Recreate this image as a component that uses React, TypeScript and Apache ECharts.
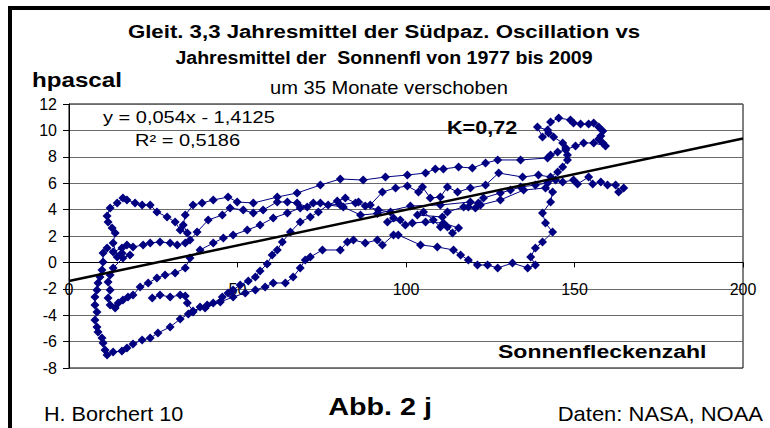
import React, { useEffect, useRef } from "react";
import * as echarts from "echarts";

// Sunspot number (annual running mean) — x values, in time order of the trajectory
const sunspotNumber = [
  164.6, 163.1, 162.2, 159.8, 157.8, 155.4, 154.2, 150.9, 149.7, 146.5, 144.4, 142.0, 138.4, 134.0, 131.0, 128.0,
  123.0, 121.5, 120.6, 118.5, 117.1, 112.3, 110.8, 103.4, 105.2, 108.1, 110.2, 112.3, 113.8, 115.6, 111.1, 105.8,
  101.9, 99.8, 98.3, 94.5, 96.3, 95.4, 91.8, 87.9, 85.0, 82.0,
  79.6, 76.9, 74.0, 71.6, 68.6, 65.7, 63.3, 61.8, 60.3, 58.8, 56.7, 55.3, 53.2, 50.8, 48.7, 47.2, 45.5, 42.8, 41.0,
  38.9, 36.8,
  35.4, 33.0, 30.0, 26.4, 24.1, 21.7, 19.0, 17.2, 15.7, 13.1, 11.3,
  10.7, 10.1, 9.8, 8.6, 8.3, 7.7, 8.3, 7.7, 7.7, 8.3, 8.6, 9.2, 9.8, 10.1, 10.1,
  11.3, 13.1, 15.7, 17.2, 19.0, 22.0, 24.1, 27.0, 30.0, 32.1, 34.5, 35.9,
  38.0, 41.3, 45.5, 47.8, 51.7, 54.7, 57.6, 61.8, 64.8, 67.7, 70.7, 74.6, 80.5, 85.9, 89.4, 93.0, 96.9, 100.4,
  103.7, 104.9, 107.2, 110.2, 112.3, 115.3, 119.1, 123.6, 127.5, 134.6, 139.3, 142.9,
  145.0, 146.5, 147.9, 147.9, 147.4,
  146.5, 143.8, 142.3, 140.5, 139.0, 142.0, 142.9, 145.3, 148.8, 149.7, 151.8, 154.2, 155.7, 157.2, 158.4, 157.8,
  157.2, 158.4, 159.2, 155.7, 152.7, 150.3, 147.4,
  145.0, 142.9, 142.0, 134.0, 127.2, 123.6, 119.7, 115.6, 111.1, 108.7, 105.8, 100.4, 93.9, 87.3, 80.5, 74.6,
  67.7, 61.8, 54.7, 49.9, 47.2, 42.8, 39.5, 36.8, 34.5, 33.9, 35.1, 33.0,
  31.5, 29.1, 26.1, 24.1, 21.7, 19.6,
  17.2, 16.0, 14.3, 12.2, 11.3, 11.6, 12.8, 13.7, 13.1,
  14.3, 15.7, 18.1, 16.0, 13.1, 12.2, 11.6, 12.2, 11.6, 12.2, 13.7, 14.6, 16.0, 17.5, 19.0,
  21.1, 23.5, 26.1, 28.5, 31.5, 34.5, 35.9, 38.9, 42.8, 45.8, 48.7, 52.9, 56.7, 60.6, 64.8, 68.6, 72.5,
  81.4, 86.5, 91.5, 101.3, 110.2, 119.1, 122.1, 128.0, 134.9, 141.4, 143.5,
  142.9, 140.5, 141.4, 143.5, 140.5, 138.4, 137.0, 138.4, 136.1, 131.6, 127.2, 124.2, 121.2, 118.5, 116.2, 114.1,
  109.3, 104.3, 97.7, 96.3, 93.0, 91.5, 87.9, 84.4, 82.6, 80.5,
  75.2, 71.6, 70.1, 68.6, 66.5, 64.2, 60.6, 58.2, 55.3, 52.3, 48.7, 44.9, 40.4, 36.8,
  35.1, 34.5, 33.0, 30.0, 27.0, 24.7,
];

// Southern Oscillation, 3-year running mean (hPa) — y values, same order
const soiPressure = [
  5.64, 5.33, 5.86, 5.86, 6.09, 5.94, 6.47, 5.94, 6.24, 6.09, 6.24, 6.02, 5.86, 5.71, 5.48, 5.26,
  4.88, 4.5, 4.12, 4.2, 4.2, 3.82, 3.44, 3.59, 3.82, 3.21, 2.68, 2.68, 2.23, 2.61, 2.98, 3.06,
  2.98, 2.83, 3.21, 3.06, 3.36, 3.82, 3.97, 4.27, 4.5, 4.88,
  4.65, 4.35, 3.82, 3.44, 3.06, 2.3, 1.55, 0.94, 0.56, -0.12, -0.65, -1.11, -1.41, -1.71, -2.09, -2.32, -2.62, -3.08, -3.23,
  -3.38, -3.76,
  -3.91, -4.29, -4.89, -5.35, -5.73, -5.88, -6.18, -6.48, -6.71, -6.79, -7.02,
  -6.64, -6.11, -5.73, -5.27, -4.89, -4.36, -3.76, -3.23, -2.62, -2.09, -1.56, -1.11, -0.58, 0.03, 0.71,
  1.09, 0.79, 1.09, 1.32, 1.17, 1.32, 1.47, 1.55, 1.47, 1.32, 1.47, 1.7,
  2.3, 3.21, 3.59, 4.12, 3.97, 3.74, 3.97, 4.58, 4.58, 4.5, 4.2, 4.5, 4.35, 4.58, 4.35, 5.33, 5.64, 5.79,
  5.33, 5.71, 4.88, 4.95, 5.71, 5.33, 5.64, 5.86, 6.77, 6.47, 6.62, 6.47,
  6.85, 7.23, 7.76, 8.14, 8.67,
  9.05, 9.5, 9.8, 9.5, 10.25, 10.03, 10.64, 10.94, 10.79, 10.56, 10.48, 10.48, 10.56, 10.25, 9.95, 9.58,
  9.35, 9.05, 8.82, 9.05, 9.05, 8.82, 8.52,
  8.36, 8.14, 7.91, 7.76, 7.76, 7.53, 7.15, 7.23, 7.08, 7.08, 6.77, 6.62, 6.47, 6.24, 6.32, 5.86,
  5.26, 4.95, 4.5, 4.58, 4.95, 4.73, 4.5, 4.35, 3.59, 2.83, 2.23, 2.45,
  3.06, 3.44, 3.82, 4.35, 4.35, 4.5,
  4.73, 4.88, 4.5, 4.12, 3.52, 3.06, 2.61, 2.23, 1.47,
  0.41, 0.71, 0.56, 0.33, -0.42, -0.95, -1.48, -2.09, -2.7, -3.23, -3.45, -3.08, -2.85, -2.62, -2.47,
  -1.86, -1.56, -1.18, -0.95, -0.8, -0.42, 0.33, 0.94, 1.47, 1.85, 2.08, 2.45, 2.83, 3.36, 3.74, 4.12, 4.5,
  4.2, 3.59, 3.7, 4.27, 4.35, 4.58, 4.35, 4.73, 5.48, 5.64, 5.33,
  4.58, 3.74, 2.98, 2.3, 1.55, 1.09, 0.41, -0.2, -0.42, -0.05, -0.42, -0.2, -0.2, 0.18, 0.56, 0.94,
  1.17, 1.32, 2.08, 2.08, 1.32, 1.7, 1.47, 1.7, 1.55, 0.94,
  0.94, 0.41, 0.18, -0.42, -1.11, -1.56, -1.56, -1.86, -2.09, -2.32, -2.62, -3.0, -3.45, -3.68,
  -3.08, -2.55, -2.47, -2.62, -2.47, -2.7,
];

const trendSlope = 0.054;
const trendIntercept = -1.4125;
const trendText = "y = 0,054x - 1,4125";
const rSquaredText = "R² = 0,5186";
const correlationText = "K=0,72";

const titleLines = [
  "Gleit. 3,3 Jahresmittel der Südpaz. Oscillation vs",
  "Jahresmittel der  Sonnenfl von 1977 bis 2009",
];
const subtitle = "um 35 Monate verschoben";
const yAxisName = "hpascal";
const xAxisName = "Sonnenfleckenzahl";
const footerLeft = "H. Borchert 10";
const footerCenter = "Abb. 2 j";
const footerRight = "Daten: NASA, NOAA";

const X_MIN = 0;
const X_MAX = 200;
const X_STEP = 50;
const Y_MIN = -8;
const Y_MAX = 12;
const Y_STEP = 2;

const FONT = '"Liberation Sans", Arial, sans-serif';

// plot box in pixels
const GRID_LEFT = 69;
const GRID_TOP = 104;
const GRID_W = 674;
const GRID_H = 264;

export default function App() {
  const ref = useRef<HTMLDivElement>(null);

  useEffect(() => {
    if (!ref.current) return;
    const chart = echarts.init(ref.current, null, { renderer: "svg" });
    const points = sunspotNumber.map((x, i) => [x, soiPressure[i]]);
    const trend = [
      [X_MIN, trendSlope * X_MIN + trendIntercept],
      [X_MAX, trendSlope * X_MAX + trendIntercept],
    ];
    // x axis crosses the y axis at value 0
    const xAxisOffset = -(GRID_H * (0 - Y_MIN)) / (Y_MAX - Y_MIN);

    const txt = (
      text: string,
      x: number,
      y: number,
      size: number,
      bold: boolean,
      align: string,
      sx: number
    ) => ({
      type: "text",
      x,
      y,
      scaleX: sx,
      silent: true,
      z: 50,
      style: {
        text,
        fill: "#000",
        font: `${bold ? "bold " : ""}${size}px ${FONT}`,
        align,
        verticalAlign: "middle",
      },
    });

    chart.setOption({
      animation: false,
      backgroundColor: "#fff",
      grid: {
        left: GRID_LEFT,
        top: GRID_TOP,
        width: GRID_W,
        height: GRID_H,
        show: true,
        backgroundColor: "#fff",
        borderColor: "#000",
        borderWidth: 1,
        containLabel: false,
      },
      xAxis: {
        type: "value",
        min: X_MIN,
        max: X_MAX,
        interval: X_STEP,
        offset: xAxisOffset,
        axisLine: { show: true, onZero: false, lineStyle: { color: "#000", width: 1 } },
        axisTick: { show: true, length: 5, lineStyle: { color: "#000" } },
        axisLabel: { margin: 19, fontSize: 16, color: "#000", fontFamily: FONT },
        splitLine: { show: false },
      },
      yAxis: {
        type: "value",
        min: Y_MIN,
        max: Y_MAX,
        interval: Y_STEP,
        axisLine: { show: true, onZero: false, lineStyle: { color: "#000", width: 1 } },
        axisTick: { show: true, length: 6, lineStyle: { color: "#000" } },
        axisLabel: { margin: 12, fontSize: 16, color: "#000", fontFamily: FONT },
        splitLine: { show: true, lineStyle: { color: "#6a6a6a", width: 1 } },
      },
      series: [
        {
          type: "line",
          data: points,
          symbol: "diamond",
          symbolSize: 9,
          showAllSymbol: true,
          lineStyle: { color: "#000080", width: 1 },
          itemStyle: { color: "#000080" },
          z: 2,
        },
        {
          type: "line",
          data: trend,
          symbol: "none",
          lineStyle: { color: "#000", width: 2.5 },
          z: 5,
        },
      ],
      graphic: [
        {
          type: "rect",
          silent: true,
          z: 60,
          shape: { x: 10, y: 8, width: 820, height: 480 },
          style: { fill: "none", stroke: "#000", lineWidth: 4 },
        },
        txt(titleLines[0], 384, 31, 19, true, "center", 1.17),
        txt(titleLines[1], 384, 58, 19, true, "center", 1.03),
        txt(subtitle, 389, 88, 17.5, false, "center", 1.15),
        txt(yAxisName, 32, 80, 21, true, "left", 1.15),
        txt(trendText, 103, 118, 16, false, "left", 1.25),
        txt(rSquaredText, 135, 141, 16, false, "left", 1.25),
        txt(correlationText, 447, 128, 18, true, "left", 1.2),
        txt(xAxisName, 498, 351, 18, true, "left", 1.28),
        txt(footerLeft, 44, 414, 20, false, "left", 1.08),
        txt(footerCenter, 380, 407, 23, true, "center", 1.25),
        txt(footerRight, 763, 414, 20, false, "right", 1.1),
      ],
    });
    return () => chart.dispose();
  }, []);

  return (
    <div
      ref={ref}
      style={{ position: "fixed", left: 0, top: 0, width: 770, height: 428, background: "#fff" }}
    />
  );
}
